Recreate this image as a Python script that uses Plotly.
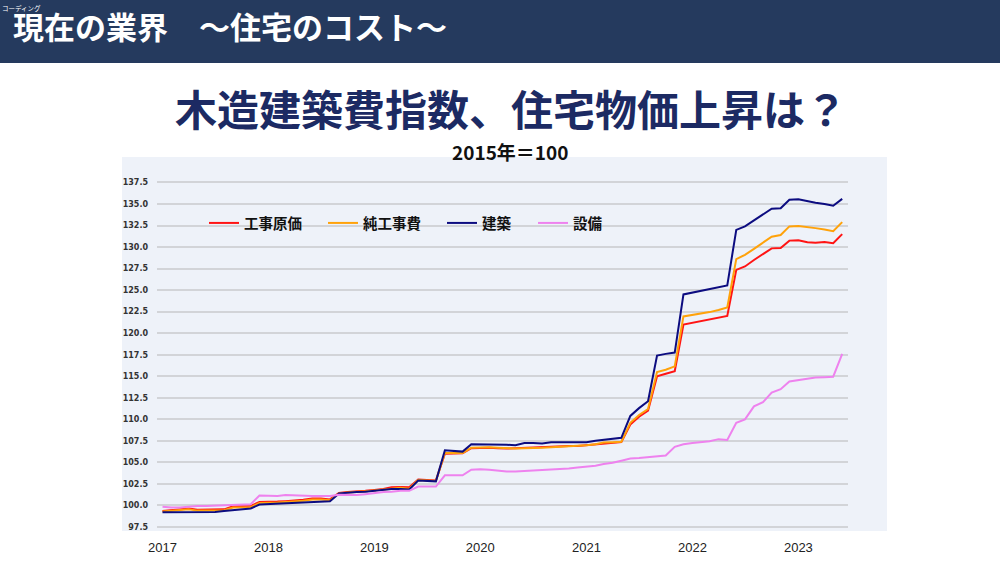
import plotly.graph_objects as go
import pandas as pd

# ---- data (monthly, Jan 2017 - Jun 2023, 2015 = 100) ----
months = pd.date_range("2017-01-01", periods=78, freq="MS")

series_names = ["工事原価", "純工事費", "建築", "設備"]

koji_genka = [99.35, 99.45, 99.55, 99.65, 99.5, 99.5, 99.5, 99.55, 99.9, 99.95, 99.95, 100.4,
              100.4, 100.45, 100.5, 100.55, 100.65, 100.8, 100.8, 100.7, 101.45, 101.55, 101.6, 101.7,
              101.8, 101.9, 102.1, 102.15, 102.1, 103.0, 102.95, 102.9, 106.0, 106.05, 106.05, 106.65,
              106.7, 106.7, 106.65, 106.6, 106.65, 106.7, 106.7, 106.75, 106.8, 106.85, 106.9, 106.9,
              107.0, 107.05, 107.2, 107.3, 107.35, 109.4, 110.3, 111.0, 115.0, 115.3, 115.6, 121.0,
              121.2, 121.4, 121.6, 121.8, 122.0, 127.35, 127.75, 128.5, 129.2, 129.85, 129.9, 130.75,
              130.8, 130.55, 130.5, 130.6, 130.45, 131.5]

jun_kojihi = [99.3, 99.4, 99.5, 99.55, 99.4, 99.4, 99.4, 99.45, 99.75, 99.8, 99.8, 100.3,
              100.3, 100.35, 100.4, 100.45, 100.55, 100.7, 100.7, 100.6, 101.4, 101.5, 101.55, 101.65,
              101.75, 101.85, 102.0, 102.05, 101.95, 102.95, 102.9, 102.85, 106.1, 106.1, 106.1, 106.7,
              106.75, 106.75, 106.7, 106.65, 106.6, 106.65, 106.65, 106.7, 106.75, 106.8, 106.85, 106.9,
              107.0, 107.1, 107.3, 107.35, 107.4, 109.6, 110.5, 111.2, 115.5, 115.75, 116.15, 121.95,
              122.1, 122.3, 122.45, 122.7, 123.0, 128.6, 129.1, 129.8, 130.5, 131.2, 131.4, 132.4,
              132.45, 132.35, 132.2, 132.05, 131.85, 132.9]

kenchiku = [99.2, 99.2, 99.2, 99.2, 99.2, 99.2, 99.25, 99.35, 99.45, 99.55, 99.65, 100.1,
            100.15, 100.2, 100.25, 100.3, 100.3, 100.35, 100.45, 100.5, 101.4, 101.5, 101.55, 101.6,
            101.7, 101.8, 101.9, 101.9, 101.85, 102.9, 102.85, 102.8, 106.4, 106.35, 106.25, 107.1,
            107.1, 107.1, 107.1, 107.05, 107.0, 107.25, 107.25, 107.2, 107.35, 107.35, 107.35, 107.35,
            107.35, 107.5, 107.6, 107.7, 107.85, 110.4, 111.3, 112.1, 117.4, 117.6, 117.75, 124.5,
            124.7, 124.95, 125.15, 125.35, 125.55, 132.0, 132.4, 133.1, 133.8, 134.45, 134.5, 135.5,
            135.55, 135.3, 135.15, 135.0, 134.8, 135.6]

setsubi = [99.85, 99.75, 99.75, 99.85, 99.95, 99.95, 100.0, 100.05, 100.1, 100.1, 100.15, 101.15,
           101.1, 101.1, 101.2, 101.15, 101.1, 101.1, 101.1, 101.1, 101.25, 101.2, 101.2, 101.3,
           101.45, 101.55, 101.6, 101.7, 101.7, 102.2, 102.2, 102.2, 103.5, 103.5, 103.5, 104.15,
           104.2, 104.15, 104.05, 103.95, 103.95, 104.0, 104.05, 104.1, 104.15, 104.2, 104.3, 104.4,
           104.5, 104.6, 104.8, 104.95, 105.2, 105.45, 105.5, 105.6, 105.7, 105.8, 106.8, 107.1,
           107.25, 107.35, 107.45, 107.7, 107.6, 109.6, 110.0, 111.5, 112.0, 113.1, 113.5, 114.4,
           114.55, 114.65, 114.85, 114.9, 114.95, 117.6]

series_values = [koji_genka, jun_kojihi, kenchiku, setsubi]
series_colors = ["#ff1414", "#ffa20a", "#0c0c80", "#ee82ee"]

y_tick_values = [97.5 + 2.5 * i for i in range(17)]

header_title = "現在の業界　～住宅のコスト～"
header_small = "コーディング"
main_title = "木造建築費指数、住宅物価上昇は？"
sub_title = "2015年＝100"

# ---- layout geometry (pixels) ----
W, H = 1000, 568
L, R, T, B = 157, 152, 178, 38
PW, PH = W - L - R, H - T - B


def px_x(px):
    return (px - L) / PW


def px_y(py):
    return (H - B - py) / PH


BG = "#eef2f9"
CJK = "Noto Sans CJK JP"

fig = go.Figure()

legend_keys = ["legend", "legend2", "legend3", "legend4"]
legend_line_x = [209, 328, 447, 538]

for name, vals, col, lk in zip(series_names, series_values, series_colors, legend_keys):
    fig.add_trace(go.Scatter(
        x=months, y=vals, name=name, mode="lines",
        line=dict(color=col, width=2),
        legend=lk,
    ))

legend_common = dict(
    orientation="h",
    xref="paper", yref="paper",
    xanchor="left", yanchor="middle",
    bgcolor="rgba(0,0,0,0)",
    font=dict(family=CJK, size=14.5, color="#111111", weight="bold"),
)
for lk, lx in zip(legend_keys, legend_line_x):
    fig.update_layout(**{lk: dict(legend_common, x=px_x(lx - 5), y=px_y(223))})

shapes = [
    # light panel behind the chart
    dict(type="rect", xref="paper", yref="paper", layer="below",
         x0=px_x(122), x1=px_x(887), y0=px_y(531), y1=px_y(157),
         fillcolor=BG, line=dict(width=0)),
    # legend backdrop hiding gridlines
    dict(type="rect", xref="paper", yref="paper", layer="between",
         x0=px_x(201), x1=px_x(621), y0=px_y(256), y1=px_y(192),
         fillcolor=BG, line=dict(width=0)),
    # header bar
    dict(type="rect", xref="paper", yref="paper", layer="above",
         x0=px_x(0), x1=px_x(1000), y0=px_y(63), y1=px_y(0),
         fillcolor="#253a5e", line=dict(width=0)),
]

annotations = [
    dict(text=header_title, xref="paper", yref="paper", x=px_x(11), y=px_y(26),
         xanchor="left", yanchor="middle", showarrow=False,
         font=dict(family=CJK, size=31, color="white", weight="bold")),
    dict(text=header_small, xref="paper", yref="paper", x=px_x(0), y=px_y(8),
         xanchor="left", yanchor="middle", showarrow=False,
         font=dict(family=CJK, size=6.5, color="white")),
    dict(text=main_title, xref="paper", yref="paper", x=px_x(511), y=px_y(108),
         xanchor="center", yanchor="middle", showarrow=False,
         font=dict(family=CJK, size=42, color="#1c2a63", weight="bold")),
    dict(text=sub_title, xref="paper", yref="paper", x=px_x(510), y=px_y(151),
         xanchor="center", yanchor="middle", showarrow=False,
         font=dict(family=CJK, size=19, color="#111111", weight="bold")),
]

fig.update_layout(
    width=W, height=H, autosize=False,
    margin=dict(l=L, r=R, t=T, b=B, pad=0),
    paper_bgcolor="white", plot_bgcolor=BG,
    showlegend=True,
    shapes=shapes, annotations=annotations,
)

fig.update_xaxes(
    type="date",
    range=["2016-12-13", "2023-06-21"],
    tick0="2017-01-01", dtick="M12", tickformat="%Y",
    showgrid=False, zeroline=False, showline=False,
    ticks="", ticklabelstandoff=8,
    tickfont=dict(family="Liberation Sans", size=13, color="#222222"),
)
fig.update_yaxes(
    range=[97.15, 138.02],
    tickmode="array", tickvals=y_tick_values,
    ticktext=[f"{v:.1f}" for v in y_tick_values],
    showgrid=True, gridcolor="#d2d4d8", gridwidth=1.5,
    zeroline=False, showline=False,
    ticks="", ticklabelstandoff=8,
    tickfont=dict(family="DejaVu Sans", size=8, color="#333333", weight="bold"),
)

fig.write_html("out.html", config={"displayModeBar": False},
               post_script="document.body.style.margin='0';")
